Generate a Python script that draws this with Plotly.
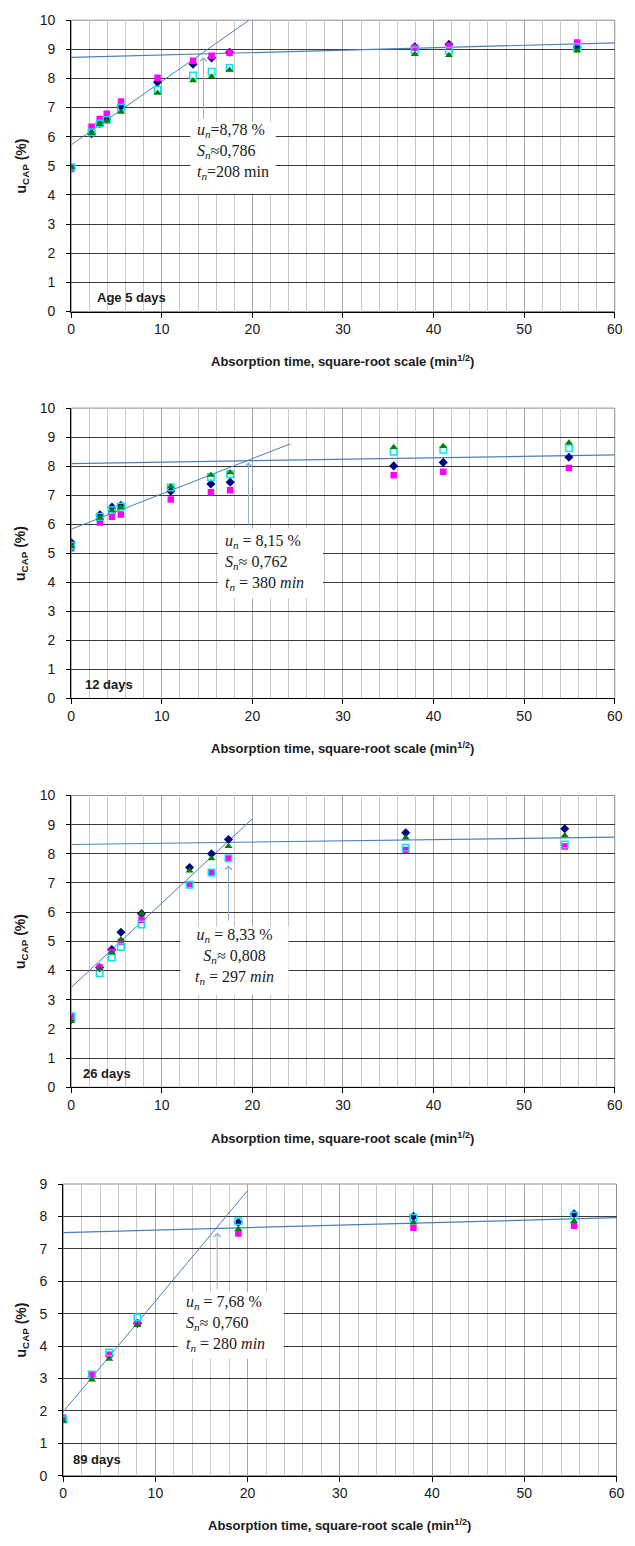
import plotly.graph_objects as go

# ---------------- data ----------------
panel_labels = ["Age 5 days", "12 days", "26 days", "89 days"]
y_max = [10, 10, 10, 9]

x1 = [0, 2.25, 3.15, 3.92, 5.5, 9.53, 13.45, 15.5, 17.48, 37.93, 41.7, 55.85]
navy1 = [4.93, 6.1, 6.45, 6.6, 7.04, 7.87, 8.49, 8.7, 8.9, 9.09, 9.17, 9.06]
magenta1 = [4.89, 6.34, 6.61, 6.79, 7.21, 8.02, 8.61, 8.78, 8.88, 9.06, 9.12, 9.23]
cyan1 = [4.95, 6.15, 6.45, 6.57, 6.99, 7.61, 8.1, 8.23, 8.36, 8.97, 8.95, 9.08]
green1 = [4.96, 6.12, 6.43, 6.55, 6.85, 7.5, 7.93, 8.06, 8.29, 8.83, 8.8, 8.95]

x2 = [0, 3.17, 4.5, 5.48, 10.99, 15.42, 17.55, 35.6, 41.07, 54.94]
navy2 = [5.37, 6.33, 6.59, 6.65, 7.14, 7.39, 7.45, 8.01, 8.13, 8.31]
magenta2 = [5.17, 6.06, 6.26, 6.34, 6.85, 7.1, 7.17, 7.69, 7.81, 7.94]
cyan2 = [5.26, 6.26, 6.49, 6.61, 7.27, 7.62, 7.72, 8.5, 8.57, 8.62]
green2 = [5.24, 6.22, 6.47, 6.58, 7.3, 7.7, 7.78, 8.65, 8.69, 8.81]

x3 = [0, 3.14, 4.48, 5.49, 7.76, 13.07, 15.49, 17.36, 36.93, 54.48]
navy3 = [2.32, 4.1, 4.72, 5.31, 5.95, 7.53, 8.0, 8.49, 8.72, 8.86]
magenta3 = [2.43, 4.1, 4.64, 4.98, 5.74, 6.96, 7.36, 7.85, 8.13, 8.25]
cyan3 = [2.43, 3.91, 4.45, 4.81, 5.58, 6.94, 7.36, 7.85, 8.21, 8.32]
green3 = [2.26, 4.05, 4.61, 5.06, 5.95, 7.42, 7.84, 8.26, 8.55, 8.63]

x4 = [0, 3.13, 5.0, 8.06, 19.0, 37.98, 55.4]
navy4 = [1.75, 3.05, 3.7, 4.7, 7.81, 8.0, 8.08]
magenta4 = [1.79, 3.1, 3.73, 4.69, 7.47, 7.65, 7.71]
cyan4 = [1.73, 3.12, 3.8, 4.89, 7.85, 7.96, 8.03]
green4 = [1.69, 2.96, 3.6, 4.64, 7.6, 7.81, 7.85]

# fitted lines (start/end points)
steep_x = [[0, 20], [0, 24.2], [0, 20], [0, 20]]
steep_y = [[5.72, 10.08], [5.83, 8.77], [3.42, 9.2], [1.97, 8.8]]
flat_x = [[0, 60], [0, 60], [0, 60], [0, 60]]
flat_y = [[8.72, 9.22], [8.09, 8.39], [8.32, 8.57], [7.5, 7.96]]

# arrows: x, y_from, y_to
arrow_x = [14.6, 19.57, 17.36, 16.7]
arrow_y0 = [6.57, 5.94, 5.66, 5.72]
arrow_y1 = [8.74, 8.14, 7.61, 7.5]

u_n = ["<i>u</i><sub><i>n</i></sub>=8,78 %", "<i>u</i><sub><i>n</i></sub> = 8,15 %",
       "<i>u</i><sub><i>n</i></sub> = 8,33 %", "<i>u</i><sub><i>n</i></sub> = 7,68 %"]
s_n = ["<i>S</i><sub><i>n</i></sub>≈0,786", "<i>S</i><sub><i>n</i></sub>≈ 0,762",
       "<i>S</i><sub><i>n</i></sub>≈ 0,808", "<i>S</i><sub><i>n</i></sub>≈ 0,760"]
t_n = ["<i>t</i><sub><i>n</i></sub>=208 min", "<i>t</i><sub><i>n</i></sub> = 380 <i>min</i>",
       "<i>t</i><sub><i>n</i></sub> = 297 <i>min</i>", "<i>t</i><sub><i>n</i></sub> = 280 <i>min</i>"]

# ---------------- layout geometry ----------------
W, H = 635, 1546
panels_px = [  # x0, x1, ytop, ybottom (pixels)
    (68.5, 622.5, 12.3, 306.7),
    (68.5, 622.5, 404.3, 697.7),
    (68.5, 622.5, 795.7, 1090.5),
    (60.3, 624.3, 1188.3, 1483.0),
]
xtitle_px = [357, 748, 1142, 1533]
# text box: x0, x1, y0, y1 (data), text pos x, y, anchor
boxes = [
    (13.16, 22.58, 4.03, 6.51, 13.7, 5.5, "left"),
    (16.19, 27.8, 3.45, 5.85, 16.73, 4.68, "left"),
    (12.06, 24.0, 3.17, 5.51, 18.0, 4.48, "center"),
    (12.41, 23.9, 3.61, 5.66, 13.05, 4.7, "left"),
]
label_pos = [(2.65, 0.47), (1.25, 0.47), (1.1, 0.46), (0.82, 0.49)]

FONT = "Liberation Sans, Arial, sans-serif"
SERIF = "Liberation Serif, DejaVu Serif, serif"

fig = go.Figure()
data_sets = [
    (x1, navy1, magenta1, cyan1, green1),
    (x2, navy2, magenta2, cyan2, green2),
    (x3, navy3, magenta3, cyan3, green3),
    (x4, navy4, magenta4, cyan4, green4),
]
line_col = "#4a7ebb"
shapes = []
annotations = []
for i, (xs, nv, mg, cy, gr) in enumerate(data_sets):
    k = "" if i == 0 else str(i + 1)
    xa, ya = "x" + k, "y" + k
    # trend lines
    fig.add_trace(go.Scatter(x=steep_x[i], y=steep_y[i], mode="lines", xaxis=xa, yaxis=ya,
                             line=dict(color=line_col, width=1), showlegend=False, hoverinfo="skip"))
    fig.add_trace(go.Scatter(x=flat_x[i], y=flat_y[i], mode="lines", xaxis=xa, yaxis=ya,
                             line=dict(color=line_col, width=1.2), showlegend=False, hoverinfo="skip"))
    fig.add_trace(go.Scatter(x=xs, y=nv, mode="markers", xaxis=xa, yaxis=ya, showlegend=False,
                             marker=dict(symbol="diamond", size=7, color="#000080")))
    fig.add_trace(go.Scatter(x=xs, y=mg, mode="markers", xaxis=xa, yaxis=ya, showlegend=False,
                             marker=dict(symbol="square", size=6.5, color="#ff00ff")))
    fig.add_trace(go.Scatter(x=xs, y=cy, mode="markers", xaxis=xa, yaxis=ya, showlegend=False,
                             marker=dict(symbol="square-open", size=6.5, color="#00e5ee",
                                         line=dict(width=1.5, color="#00e5ee"))))
    fig.add_trace(go.Scatter(x=xs, y=gr, mode="markers", xaxis=xa, yaxis=ya, showlegend=False,
                             marker=dict(symbol="triangle-up", size=7, color="#008000")))

    px0, px1, pyt, pyb = panels_px[i]
    xdom = [px0 / W, px1 / W]
    ydom = [1 - pyb / H, 1 - pyt / H]
    fig.layout["xaxis" + k] = dict(
        domain=xdom, anchor=ya, range=[0, 60], dtick=10, tick0=0,
        showgrid=True, gridcolor="#a6a6a6", gridwidth=1,
        minor=dict(dtick=2, showgrid=True, gridcolor="#c8c8c8", gridwidth=1),
        showline=True, linecolor="black", linewidth=1,
        ticks="outside", ticklen=5, tickcolor="black",
        tickfont=dict(family=FONT, size=14, color="#1a1a1a"),
        zeroline=False, fixedrange=True,
    )
    fig.layout["yaxis" + k] = dict(
        domain=ydom, anchor=xa, range=[0, y_max[i]], dtick=1, tick0=0,
        showgrid=True, gridcolor="#3a3a3a", gridwidth=1,
        showline=True, linecolor="black", linewidth=1,
        ticks="outside", ticklen=4, tickcolor="black",
        tickfont=dict(family=FONT, size=14, color="#1a1a1a"),
        ticklabelstandoff=8,
        zeroline=False, fixedrange=True,
    )
    # gray border top/right
    shapes.append(dict(type="rect", xref=xa + " domain", yref=ya + " domain",
                       x0=0, x1=1, y0=0, y1=1, line=dict(color="#8c8c8c", width=1), layer="below"))
    # text box
    bx0, bx1, by0, by1, tx, ty, anc = boxes[i]
    shapes.append(dict(type="rect", xref=xa, yref=ya, x0=bx0, x1=bx1, y0=by0, y1=by1,
                       fillcolor="white", line=dict(width=0), layer="above"))
    annotations.append(dict(xref=xa, yref=ya, x=tx, y=ty, xanchor=anc, yanchor="middle",
                            align=anc, showarrow=False,
                            text=u_n[i] + "<br>" + s_n[i] + "<br>" + t_n[i],
                            font=dict(family=SERIF, size=16, color="#1a1a1a")))
    # arrow
    annotations.append(dict(xref=xa, yref=ya, axref=xa, ayref=ya,
                            x=arrow_x[i], y=arrow_y1[i], ax=arrow_x[i], ay=arrow_y0[i],
                            text="", showarrow=True, arrowhead=4, arrowsize=1.3, arrowwidth=1,
                            arrowcolor="#8fb0d8"))
    # panel label
    lx, ly = label_pos[i]
    annotations.append(dict(xref=xa, yref=ya, x=lx, y=ly, xanchor="left", yanchor="middle",
                            showarrow=False, text="<b>" + panel_labels[i] + "</b>",
                            font=dict(family=FONT, size=13, color="#1a1a1a")))
    # x title
    annotations.append(dict(xref="paper", yref="paper", x=(px0 + px1) / 2 / W, y=1 - xtitle_px[i] / H,
                            xanchor="center", yanchor="middle", showarrow=False,
                            text="<b>Absorption time, square-root scale (min<sup>1/2</sup>)</b>",
                            font=dict(family=FONT, size=13, color="#1a1a1a")))
    # y title
    annotations.append(dict(xref="paper", yref="paper", x=18 / W, y=1 - (pyt + pyb) / 2 / H,
                            xanchor="center", yanchor="middle", showarrow=False, textangle=-90,
                            text="<b>u<sub>CAP</sub> (%)</b>",
                            font=dict(family=FONT, size=14, color="#1a1a1a")))

fig.update_layout(
    width=W, height=H, autosize=False,
    margin=dict(l=0, r=0, t=0, b=0),
    paper_bgcolor="white", plot_bgcolor="white",
    shapes=shapes, annotations=annotations, showlegend=False,
)
fig.write_html("out.html", config={"displayModeBar": False},
               post_script="document.body.style.margin='0';document.body.style.overflow='hidden';")
